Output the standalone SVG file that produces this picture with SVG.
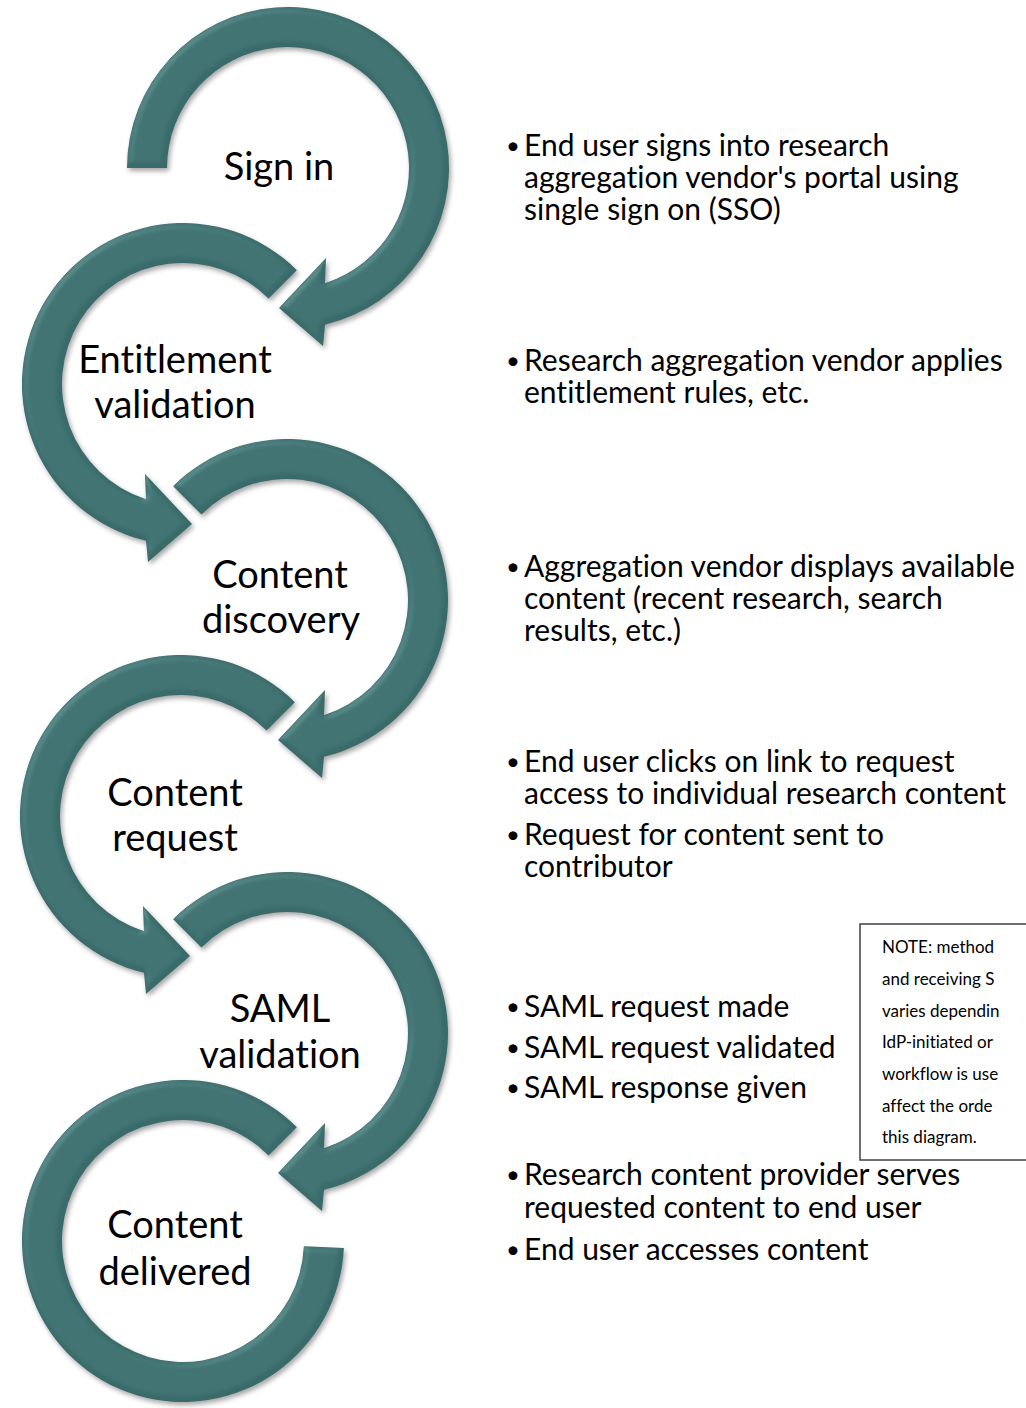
<svg xmlns="http://www.w3.org/2000/svg" width="1026" height="1408" viewBox="0 0 1026 1408">
<defs>
<style>
text{font-variant-ligatures:none}
.arc{fill:#396b6a;filter:url(#bevel)}
.lbl{font-family:Lato,"Liberation Sans",sans-serif;font-size:38px;fill:#000;text-anchor:middle}
.bul{font-family:Lato,"Liberation Sans",sans-serif;font-size:30px;fill:#000}
.dot{font-size:24px}
.note{font-family:Lato,"Liberation Sans",sans-serif;font-size:17px;fill:#000}
.box{fill:#fff;stroke:#404040;stroke-width:1.5}
</style>
<filter id="bevel" x="-15%" y="-15%" width="140%" height="140%" color-interpolation-filters="sRGB">
<feGaussianBlur in="SourceAlpha" stdDeviation="3" result="blur"/>
<feSpecularLighting in="blur" surfaceScale="2.5" specularConstant="0.4" specularExponent="16" lighting-color="#ffffff" result="spec">
<feDistantLight azimuth="225" elevation="45"/>
</feSpecularLighting>
<feComposite in="spec" in2="SourceAlpha" operator="in" result="specIn"/>
<feComposite in="SourceGraphic" in2="specIn" operator="arithmetic" k1="0" k2="1" k3="0.3" k4="0" result="lit"/>
<feGaussianBlur in="SourceAlpha" stdDeviation="2.5" result="sb"/>
<feOffset in="sb" dx="2" dy="3" result="so"/>
<feFlood flood-color="#000" flood-opacity="0.35"/>
<feComposite in2="so" operator="in" result="shadow"/>
<feMerge><feMergeNode in="shadow"/><feMergeNode in="lit"/></feMerge>
</filter>
<path id="cw" d="M-113.84,-113.84 A161,161 0 1 1 37,156.7 L35,178 L-9,140 L38,90 L37,115.2 A121,121 0 1 0 -85.56,-85.56 Z"/>
<path id="ccw" d="M113.84,-113.84 A161,161 0 1 0 -37,156.7 L-35,178 L9,140 L-38,90 L-37,115.2 A121,121 0 1 1 85.56,-85.56 Z"/>
<path id="cw0" d="M-161,0 A161,161 0 1 1 37,156.7 L35,178 L-9,140 L38,90 L37,115.2 A121,121 0 1 0 -121,0 Z"/>
<path id="last" d="M113.84,-113.84 A161,161 0 1 0 160.85,7.02 L120.88,5.28 A121,121 0 1 1 85.56,-85.56 Z"/>
</defs>

<g id="connectors">
<use href="#cw0" class="arc" transform="translate(288,168)"/>
<use href="#ccw" class="arc" transform="translate(183,384)"/>
<use href="#cw" class="arc" transform="translate(287,600)"/>
<use href="#ccw" class="arc" transform="translate(181,816)"/>
<use href="#cw" class="arc" transform="translate(287,1033)"/>
<use href="#last" class="arc" transform="translate(183,1241)"/>
</g>

<g id="node-sign-in">
<text class="lbl" x="279" y="180">Sign in</text>
<text class="bul"><tspan class="dot" x="506" y="154">•</tspan><tspan x="524" y="156">End user signs into research</tspan><tspan x="524" y="188">aggregation vendor's portal using</tspan><tspan x="524" y="220">single sign on (SSO)</tspan></text>
</g>

<g id="node-entitlement">
<text class="lbl" x="175" y="373">Entitlement</text>
<text class="lbl" x="175" y="418">validation</text>
<text class="bul"><tspan class="dot" x="506" y="369">•</tspan><tspan x="524" y="371">Research aggregation vendor applies</tspan><tspan x="524" y="403">entitlement rules, etc.</tspan></text>
</g>

<g id="node-discovery">
<text class="lbl" x="280" y="588">Content</text>
<text class="lbl" x="281" y="633">discovery</text>
<text class="bul"><tspan class="dot" x="506" y="575">•</tspan><tspan x="524" y="577">Aggregation vendor displays available</tspan><tspan x="524" y="609">content (recent research, search</tspan><tspan x="524" y="641">results, etc.)</tspan></text>
</g>

<g id="node-request">
<text class="lbl" x="175" y="806">Content</text>
<text class="lbl" x="175" y="851">request</text>
<text class="bul"><tspan class="dot" x="506" y="770">•</tspan><tspan x="524" y="772">End user clicks on link to request</tspan><tspan x="524" y="804">access to individual research content</tspan></text>
<text class="bul"><tspan class="dot" x="506" y="843">•</tspan><tspan x="524" y="845">Request for content sent to</tspan><tspan x="524" y="877">contributor</tspan></text>
</g>

<g id="node-saml">
<text class="lbl" x="280" y="1022">SAML</text>
<text class="lbl" x="280" y="1068">validation</text>
<text class="bul"><tspan class="dot" x="506" y="1015">•</tspan><tspan x="524" y="1017">SAML request made</tspan></text>
<text class="bul"><tspan class="dot" x="506" y="1056">•</tspan><tspan x="524" y="1058">SAML request validated</tspan></text>
<text class="bul"><tspan class="dot" x="506" y="1096">•</tspan><tspan x="524" y="1098">SAML response given</tspan></text>
</g>

<g id="node-note">
<rect class="box" x="860" y="924" width="180" height="236"/>
<text class="note"><tspan x="882" y="953">NOTE: method</tspan><tspan x="882" y="985">and receiving S</tspan><tspan x="882" y="1017">varies dependin</tspan><tspan x="882" y="1048">IdP-initiated or</tspan><tspan x="882" y="1080">workflow is use</tspan><tspan x="882" y="1112">affect the orde</tspan><tspan x="882" y="1143">this diagram.</tspan></text>
</g>

<g id="node-delivered">
<text class="lbl" x="175" y="1238">Content</text>
<text class="lbl" x="175" y="1285">delivered</text>
<text class="bul"><tspan class="dot" x="506" y="1183">•</tspan><tspan x="524" y="1185">Research content provider serves</tspan><tspan x="524" y="1218">requested content to end user</tspan></text>
<text class="bul"><tspan class="dot" x="506" y="1258">•</tspan><tspan x="524" y="1260">End user accesses content</tspan></text>
</g>
</svg>
